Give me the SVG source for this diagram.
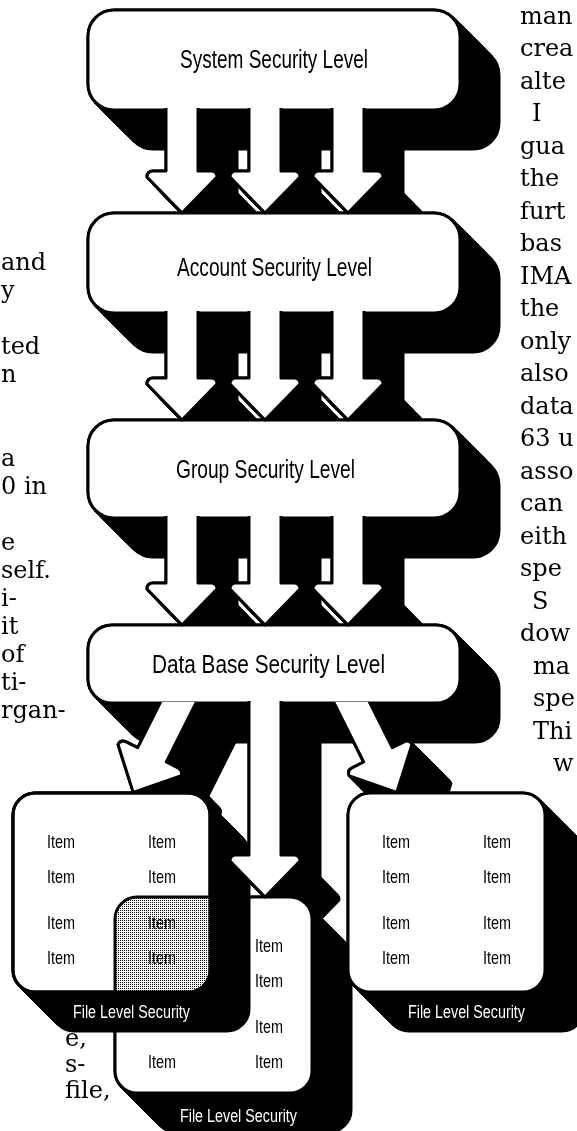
<svg xmlns="http://www.w3.org/2000/svg" width="577" height="1131" viewBox="0 0 577 1131">
<defs>
<style>
.fr{fill:#fff;stroke:#000;stroke-width:3;stroke-linejoin:round}
.ol{fill:none;stroke:#000;stroke-width:3}
.lvl{font-family:"Liberation Sans",Arial,sans-serif;font-size:25px;fill:#000}
.it{font-family:"Liberation Sans",Arial,sans-serif;font-size:19px;fill:#000}
.lab{font-family:"Liberation Sans",Arial,sans-serif;font-size:18px;fill:#fff}
.body{font-family:"DejaVu Serif","Liberation Serif",serif;font-size:24px;fill:#000}
</style>
<filter id="ext" filterUnits="userSpaceOnUse" x="-10" y="-10" width="640" height="1200">
<feOffset in="SourceAlpha" dx="1" dy="1" result="o1"/>
<feMerge result="m1"><feMergeNode in="SourceAlpha"/><feMergeNode in="o1"/></feMerge>
<feOffset in="m1" dx="2" dy="2" result="o2"/>
<feMerge result="m2"><feMergeNode in="m1"/><feMergeNode in="o2"/></feMerge>
<feOffset in="m2" dx="4" dy="4" result="o3"/>
<feMerge result="m3"><feMergeNode in="m2"/><feMergeNode in="o3"/></feMerge>
<feOffset in="m3" dx="8" dy="8" result="o4"/>
<feMerge result="m4"><feMergeNode in="m3"/><feMergeNode in="o4"/></feMerge>
<feOffset in="m4" dx="16" dy="16" result="o5"/>
<feMerge result="m5"><feMergeNode in="m4"/><feMergeNode in="o5"/></feMerge>
<feOffset in="m5" dx="8" dy="8" result="o6"/>
<feMerge result="m6"><feMergeNode in="m5"/><feMergeNode in="o6"/></feMerge>
</filter>
<pattern id="dots" width="2" height="2" patternUnits="userSpaceOnUse"><rect width="2" height="2" fill="#fff"/><rect width="1" height="1" fill="#000"/></pattern>
<clipPath id="belowDB"><rect x="0" y="702" width="577" height="429"/></clipPath>
<clipPath id="clipL"><rect x="13" y="793" width="197" height="199" rx="22"/></clipPath>
<path id="dArrow" d="M-16 -40 V58 H-29 Q-35 58 -35 64 L0 100 L35 64 Q35 58 29 58 H16 V-40"/>
</defs>
<rect width="577" height="1131" fill="#fff"/>

<g id="shadows-back" filter="url(#ext)">
<use href="#sys-box"/><use href="#acc-box"/><use href="#grp-box"/><use href="#db-box"/>
<use href="#connectors"/>
<use href="#fileM-box"/><use href="#fileR-box"/>
</g>

<g id="system-level">
<rect id="sys-box" class="fr" x="88" y="10" width="372" height="100" rx="26"/>
<text class="lvl" x="180" y="68" textLength="188" lengthAdjust="spacingAndGlyphs">System Security Level</text>
</g>
<g id="account-level">
<rect id="acc-box" class="fr" x="88" y="213" width="372" height="100" rx="26"/>
<text class="lvl" x="177" y="276" textLength="195" lengthAdjust="spacingAndGlyphs">Account Security Level</text>
</g>
<g id="group-level">
<rect id="grp-box" class="fr" x="88" y="420" width="372" height="98" rx="26"/>
<text class="lvl" x="176" y="478" textLength="179" lengthAdjust="spacingAndGlyphs">Group Security Level</text>
</g>
<g id="database-level">
<rect id="db-box" class="fr" x="88" y="625" width="372" height="78" rx="24"/>
<text class="lvl" x="152" y="673" textLength="233" lengthAdjust="spacingAndGlyphs">Data Base Security Level</text>
</g>

<g id="file-middle">
<rect id="fileM-box" class="fr" x="115" y="897" width="197" height="196" rx="22"/>
<g class="it">
<text x="255" y="952" textLength="28" lengthAdjust="spacingAndGlyphs">Item</text>
<text x="255" y="987" textLength="28" lengthAdjust="spacingAndGlyphs">Item</text>
<text x="255" y="1033" textLength="28" lengthAdjust="spacingAndGlyphs">Item</text>
<text x="148" y="1068" textLength="28" lengthAdjust="spacingAndGlyphs">Item</text>
<text x="255" y="1068" textLength="28" lengthAdjust="spacingAndGlyphs">Item</text>
</g>
<text class="lab" x="180" y="1122" textLength="117" lengthAdjust="spacingAndGlyphs">File Level Security</text>
</g>

<g id="file-right">
<rect id="fileR-box" class="fr" x="348" y="793" width="197" height="199" rx="22"/>
<g class="it">
<text x="382" y="848" textLength="28" lengthAdjust="spacingAndGlyphs">Item</text>
<text x="483" y="848" textLength="28" lengthAdjust="spacingAndGlyphs">Item</text>
<text x="382" y="883" textLength="28" lengthAdjust="spacingAndGlyphs">Item</text>
<text x="483" y="883" textLength="28" lengthAdjust="spacingAndGlyphs">Item</text>
<text x="382" y="929" textLength="28" lengthAdjust="spacingAndGlyphs">Item</text>
<text x="483" y="929" textLength="28" lengthAdjust="spacingAndGlyphs">Item</text>
<text x="382" y="964" textLength="28" lengthAdjust="spacingAndGlyphs">Item</text>
<text x="483" y="964" textLength="28" lengthAdjust="spacingAndGlyphs">Item</text>
</g>
<text class="lab" x="408" y="1018" textLength="117" lengthAdjust="spacingAndGlyphs">File Level Security</text>
</g>

<g id="shadow-front" filter="url(#ext)"><use href="#fileL-box"/></g>

<g id="connectors" class="fr">
<path d="M166 108 V171 H153 Q147 171 147 177 L182 213 L217 177 Q217 171 211 171 H198 V108"/>
<path d="M249 108 V171 H236 Q230 171 230 177 L265 213 L300 177 Q300 171 294 171 H281 V108"/>
<path d="M332 108 V171 H319 Q313 171 313 177 L348 213 L383 177 Q383 171 377 171 H364 V108"/>
<path d="M166 311 V378 H153 Q147 378 147 384 L182 420 L217 384 Q217 378 211 378 H198 V311"/>
<path d="M249 311 V378 H236 Q230 378 230 384 L265 420 L300 384 Q300 378 294 378 H281 V311"/>
<path d="M332 311 V378 H319 Q313 378 313 384 L348 420 L383 384 Q383 378 377 378 H364 V311"/>
<path d="M166 516 V583 H153 Q147 583 147 589 L182 625 L217 589 Q217 583 211 583 H198 V516"/>
<path d="M249 516 V583 H236 Q230 583 230 589 L265 625 L300 589 Q300 583 294 583 H281 V516"/>
<path d="M332 516 V583 H319 Q313 583 313 589 L348 625 L383 589 Q383 583 377 583 H364 V516"/>
<path d="M249 701 V855 H236 Q230 855 230 861 L265 897 L300 861 Q300 855 294 855 H281 V701"/>
<g clip-path="url(#belowDB)"><use href="#dArrow" transform="translate(178 703) rotate(26.6)"/></g>
<g clip-path="url(#belowDB)"><use href="#dArrow" transform="translate(352 703) rotate(-26.6)"/></g>
</g>

<g id="file-left">
<rect id="fileL-box" class="fr" x="13" y="793" width="197" height="199" rx="22"/>
<rect x="115" y="897" width="197" height="196" rx="22" fill="url(#dots)" stroke="#000" stroke-width="3" clip-path="url(#clipL)"/>
<rect class="ol" x="13" y="793" width="197" height="199" rx="22"/>
<g class="it">
<text x="47" y="848" textLength="28" lengthAdjust="spacingAndGlyphs">Item</text>
<text x="148" y="848" textLength="28" lengthAdjust="spacingAndGlyphs">Item</text>
<text x="47" y="883" textLength="28" lengthAdjust="spacingAndGlyphs">Item</text>
<text x="148" y="883" textLength="28" lengthAdjust="spacingAndGlyphs">Item</text>
<text x="47" y="929" textLength="28" lengthAdjust="spacingAndGlyphs">Item</text>
<text x="148" y="929" textLength="28" lengthAdjust="spacingAndGlyphs">Item</text>
<text x="47" y="964" textLength="28" lengthAdjust="spacingAndGlyphs">Item</text>
<text x="148" y="964" textLength="28" lengthAdjust="spacingAndGlyphs">Item</text>
</g>
<text class="lab" x="73" y="1018" textLength="117" lengthAdjust="spacingAndGlyphs">File Level Security</text>
</g>

<g id="text-left" class="body">
<text x="1" y="270">and</text>
<text x="1" y="298">y</text>
<text x="1" y="354">ted</text>
<text x="1" y="382">n</text>
<text x="1" y="466">a</text>
<text x="1" y="494">0 in</text>
<text x="1" y="550">e</text>
<text x="1" y="578">self.</text>
<text x="1" y="606">i-</text>
<text x="1" y="634">it</text>
<text x="1" y="662">of</text>
<text x="1" y="690">ti-</text>
<text x="1" y="718">rgan-</text>
<text x="65" y="1046">e,</text>
<text x="65" y="1072">s-</text>
<text x="65" y="1098">file,</text>
</g>
<g id="text-right" class="body">
<text x="520" y="24">man</text>
<text x="520" y="56">crea</text>
<text x="520" y="89">alte</text>
<text x="532" y="121">I</text>
<text x="520" y="154">gua</text>
<text x="520" y="186">the</text>
<text x="520" y="219">furt</text>
<text x="520" y="251">bas</text>
<text x="520" y="284">IMA</text>
<text x="520" y="316">the</text>
<text x="520" y="349">only</text>
<text x="520" y="381">also</text>
<text x="520" y="414">data</text>
<text x="520" y="446">63 u</text>
<text x="520" y="479">asso</text>
<text x="520" y="511">can</text>
<text x="520" y="544">eith</text>
<text x="520" y="576">spe</text>
<text x="532" y="609">S</text>
<text x="520" y="641">dow</text>
<text x="533" y="674">ma</text>
<text x="533" y="706">spe</text>
<text x="533" y="739">Thi</text>
<text x="553" y="771">w</text>
</g>
</svg>
